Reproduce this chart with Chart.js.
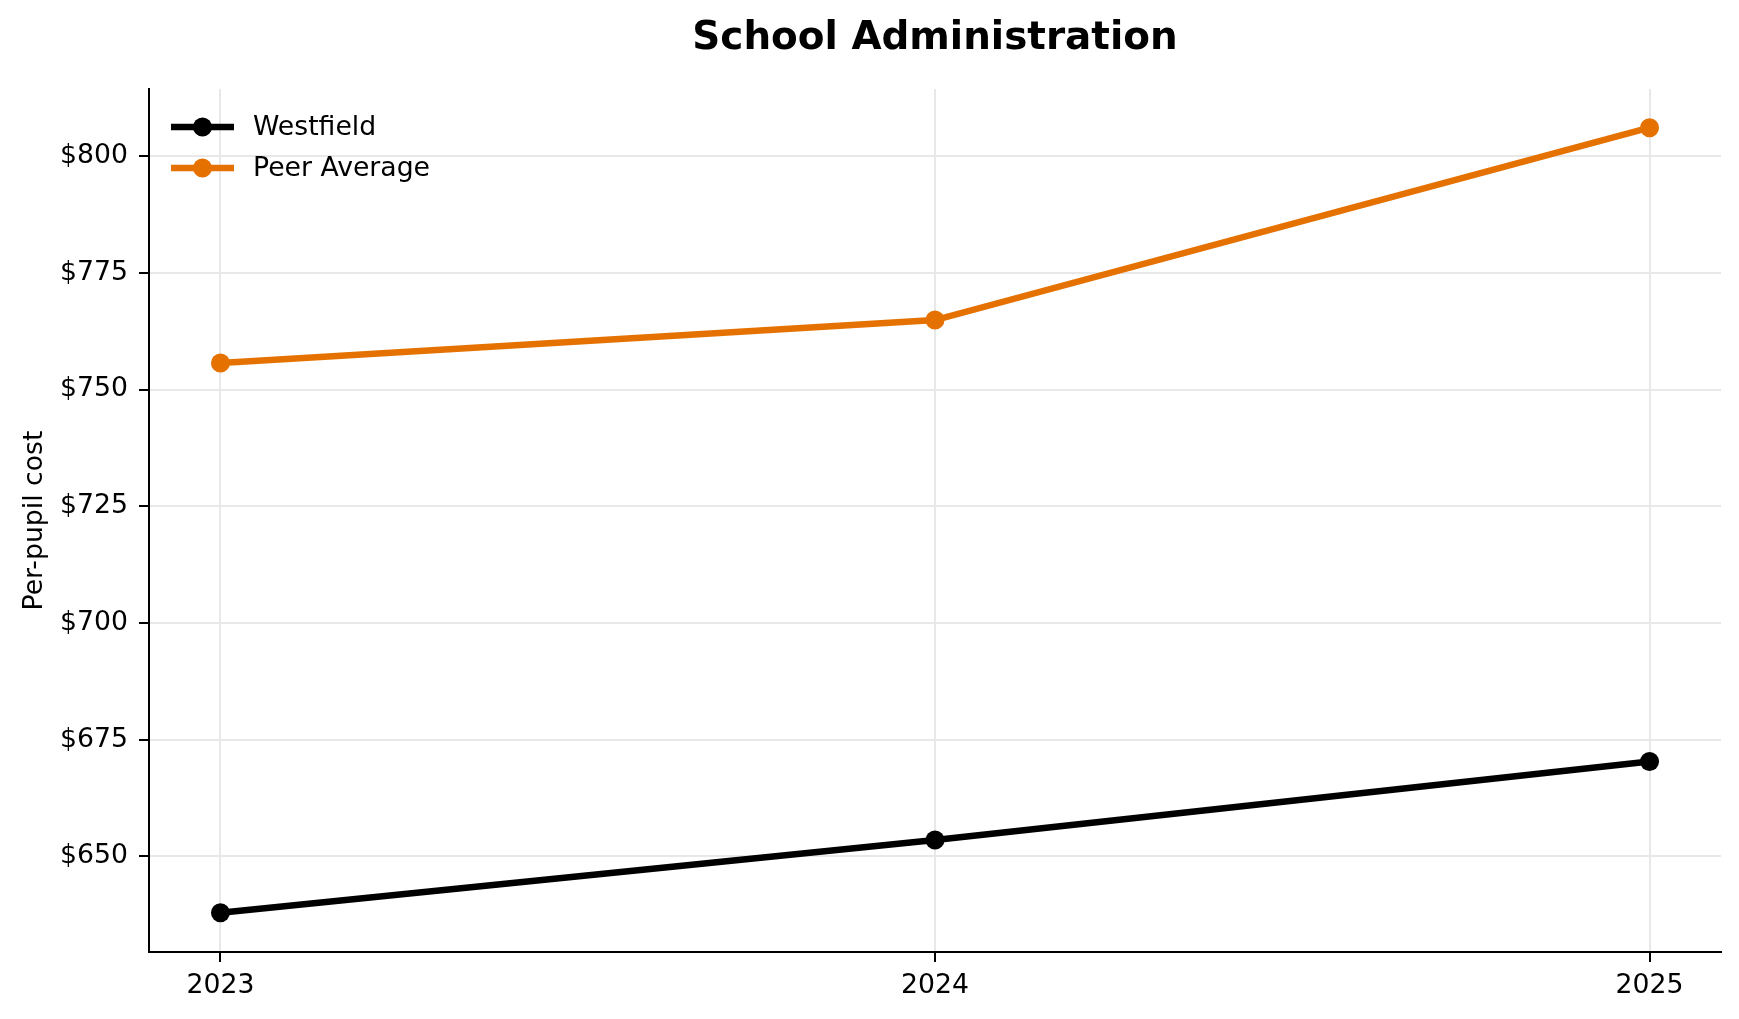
<!DOCTYPE html>
<html>
<head>
<meta charset="utf-8">
<script src="https://cdn.jsdelivr.net/npm/chart.js@4.4.1/dist/chart.umd.min.js"></script>
<style>
  html, body { margin: 0; padding: 0; background: #fff; }
  #c { display: block; }
</style>
</head>
<body>
<canvas id="c" width="1739" height="1019" style="width:1739px;height:1019px"></canvas>
<script>
const years = [2023, 2024, 2025];
const westfield = [637.9, 653.5, 670.3];
const peerAverage = [755.7, 764.9, 806.1];
const seriesNames = ['Westfield', 'Peer Average'];
const seriesColors = ['#000000', '#E57200'];
const yTickValues = [650, 675, 700, 725, 750, 775, 800];
const chartTitle = 'School Administration';
const yAxisTitle = 'Per-pupil cost';

const FONT = "'DejaVu Sans', 'Liberation Sans', sans-serif";

const legendPlugin = {
  id: 'insideLegend',
  afterDatasetsDraw(chart) {
    const ctx = chart.ctx;
    const area = chart.chartArea;
    ctx.save();
    chart.data.datasets.forEach((ds, i) => {
      const y = area.top + 38 + i * 41;
      const x0 = area.left + 22;
      const x1 = area.left + 85;
      ctx.strokeStyle = ds.borderColor;
      ctx.lineWidth = ds.borderWidth;
      ctx.beginPath();
      ctx.moveTo(x0, y);
      ctx.lineTo(x1, y);
      ctx.stroke();
      ctx.fillStyle = ds.borderColor;
      ctx.beginPath();
      ctx.arc((x0 + x1) / 2, y, ds.pointRadius, 0, Math.PI * 2);
      ctx.fill();
      ctx.fillStyle = '#000';
      ctx.font = '26.7px ' + FONT;
      ctx.textBaseline = 'middle';
      ctx.textAlign = 'left';
      ctx.fillText(ds.label, area.left + 104, y + 1);
    });
    ctx.restore();
  }
};

const makeData = vals => years.map((yr, i) => ({ x: yr, y: vals[i] }));
const seriesValues = [westfield, peerAverage];

new Chart(document.getElementById('c'), {
  type: 'line',
  data: {
    datasets: seriesNames.map((name, i) => ({
      label: name,
      data: makeData(seriesValues[i]),
      borderColor: seriesColors[i],
      backgroundColor: seriesColors[i],
      pointBackgroundColor: seriesColors[i],
      pointBorderColor: seriesColors[i],
      pointBorderWidth: 0,
      pointRadius: 9.5,
      borderWidth: 6.5,
      tension: 0,
      fill: false
    }))
  },
  options: {
    responsive: false,
    animation: false,
    devicePixelRatio: 1,
    layout: { padding: { left: 0, right: 18, top: 0, bottom: 0 } },
    plugins: {
      legend: { display: false },
      tooltip: { enabled: false },
      title: {
        display: true,
        fullSize: false,
        text: chartTitle,
        color: '#000',
        font: { family: FONT, size: 38.9, weight: 'bold', lineHeight: 1.2 },
        padding: { top: 16, bottom: 26.3 }
      }
    },
    scales: {
      x: {
        type: 'linear',
        min: 2022.9,
        max: 2025.1,
        afterFit(scale) { scale.height = 67; },
        afterBuildTicks(scale) { scale.ticks = years.map(v => ({ value: v })); },
        ticks: {
          color: '#000',
          font: { family: FONT, size: 26.7 },
          padding: 8,
          maxRotation: 0,
          callback: v => String(v)
        },
        grid: {
          color: '#e8e8e8',
          lineWidth: 2,
          drawTicks: true,
          tickLength: 10,
          tickColor: '#000',
          tickWidth: 2
        },
        border: { display: true, color: '#000', width: 2 }
      },
      y: {
        type: 'linear',
        min: 629.5,
        max: 814.4,
        afterFit(scale) { scale.width = 149; },
        afterBuildTicks(scale) { scale.ticks = yTickValues.map(v => ({ value: v })); },
        ticks: {
          color: '#000',
          font: { family: FONT, size: 26.7 },
          padding: 11,
          callback: v => '$' + v
        },
        grid: {
          color: '#e8e8e8',
          lineWidth: 2,
          drawTicks: true,
          tickLength: 10,
          tickColor: '#000',
          tickWidth: 2
        },
        border: { display: true, color: '#000', width: 2 },
        title: {
          display: true,
          text: yAxisTitle,
          color: '#000',
          font: { family: FONT, size: 26.7, lineHeight: 1.2 },
          padding: { top: 19.5, bottom: 0 }
        }
      }
    }
  },
  plugins: [legendPlugin]
});
</script>
</body>
</html>
